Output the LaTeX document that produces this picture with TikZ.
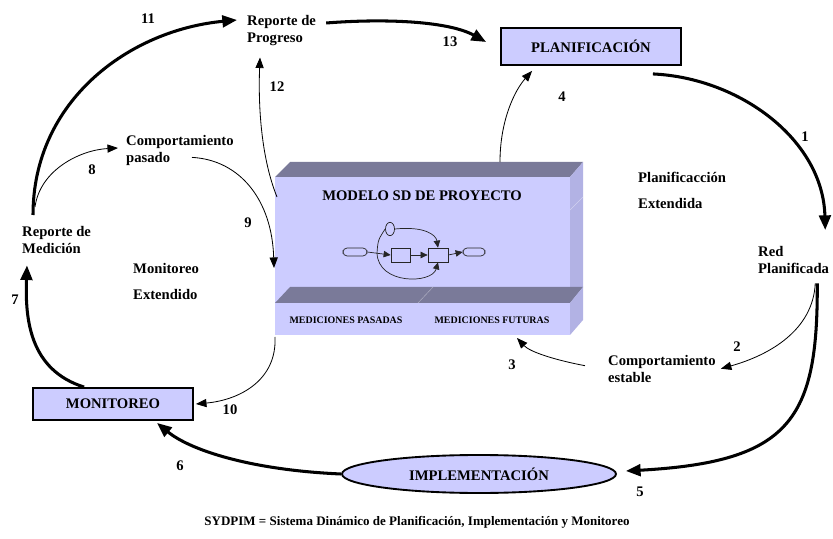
\documentclass[tikz,border=0pt]{standalone}
\usepackage{fontspec}
\setmainfont{Liberation Serif}
\usetikzlibrary{arrows.meta,calc,shapes.geometric}
\definecolor{lila}{RGB}{204,204,255}
\definecolor{lilatop}{RGB}{122,122,153}
\definecolor{lilaside}{RGB}{178,178,228}

\begin{document}
\begin{tikzpicture}[x=0.03cm,y=-0.03cm,
        lbl/.style={font=\fontsize{12.5}{14.2}\selectfont\bfseries, inner sep=0pt, align=left},
        ext/.style={font=\fontsize{12.5}{22}\selectfont\bfseries, inner sep=0pt, align=left},
        num/.style={font=\fontsize{12.5}{14}\selectfont\bfseries, inner sep=0pt},
        caja/.style={draw, line width=1.6pt, fill=lila, font=\fontsize{12.5}{14}\selectfont\bfseries, inner sep=0pt},
        gruesa/.style={line width=2.6pt, -{Triangle[length=12.5pt,width=10pt]}},
        fina/.style={line width=0.7pt, -{Triangle[length=9pt,width=7pt]}},
        mini/.style={line width=0.6pt, draw=black!85, -{Triangle[length=6pt,width=5.5pt]}},
    ]
        \useasboundingbox (0,0) rectangle (833,539);

        % bloque del modelo
        \coordinate (b1) at (275,177);
        \coordinate (b2) at (570,335);
        \fill[lila] (275,177) rectangle (570,303);
        \fill[lilatop] (275,177) -- (290,162) -- (583,162) -- (570,177) -- cycle;
        \fill[lilaside] (570,177) -- (583,162) -- (583,287) -- (570,303) -- cycle;
        \fill[lilatop] (275,303) -- (290,287) -- (583,287) -- (570,303) -- cycle;
        \fill[lila] (275,303) rectangle (570,335);
        \fill[lilaside] (570,303) -- (583,287) -- (583,320) -- (570,335) -- cycle;
        \draw[lilaside!60!white, line width=0.4pt] (570,210) -- (583,197);
        \draw[lilatop!60!white, line width=0.4pt] (418,303) -- (433,287);

        \node[font=\fontsize{12.5}{14}\selectfont\bfseries, inner sep=0pt] (modelo) at (422,196) {MODELO SD DE PROYECTO};
        \node[font=\fontsize{8.5}{10}\selectfont\bfseries, inner sep=0pt] (pasadas) at (346,320) {MEDICIONES PASADAS};
        \node[font=\fontsize{8.5}{10}\selectfont\bfseries, inner sep=0pt] (futuras) at (492,320) {MEDICIONES FUTURAS};

        % diagrama de flujo
        \node[draw=black!85, line width=0.6pt, fill=lila, rounded corners=3.5pt, minimum width=0.72cm, minimum height=0.24cm, inner sep=0pt] (nubeI) at (355,252) {};
        \node[draw=black!85, line width=0.6pt, fill=lila, rounded corners=3.5pt, minimum width=0.66cm, minimum height=0.24cm, inner sep=0pt] (nubeD) at (474,252) {};
        \node[draw=black!85, line width=0.6pt, fill=lila, minimum width=0.57cm, minimum height=0.42cm, inner sep=0pt] (nivel1) at (400.5,255) {};
        \node[draw=black!85, line width=0.6pt, fill=lila, minimum width=0.6cm, minimum height=0.42cm, inner sep=0pt] (nivel2) at (438,255) {};
        \node[draw=black!85, line width=0.6pt, fill=lila, ellipse, minimum width=0.27cm, minimum height=0.4cm, inner sep=0pt] (aux) at (390,229) {};
        \coordinate (union) at (377,253);
        \draw[mini] (nubeI.east) -- (nivel1.west);
        \draw[mini] (nivel1.east) -- (nivel2.west);
        \draw[mini] (nivel2.east) -- (nubeD.west);
        \draw[line width=0.6pt, draw=black!85] (union) .. controls (378,240) .. (aux.west);
        \draw[mini] (aux.east) .. controls (425,226) and (436,235) .. (nivel2.north);
        \draw[mini] (union) .. controls (378,285) and (432,284) .. (nivel2.south);

        % nodos principales
        \node[caja, minimum width=5.4cm, minimum height=1.11cm] (plan) at (591,46.5) {PLANIFICACIÓN};
        \node[caja, minimum width=4.8cm, minimum height=0.96cm] (monit) at (113,404) {MONITOREO};
        \node[caja, ellipse, minimum width=8.22cm, minimum height=1.14cm] (impl) at (479,474) {IMPLEMENTACIÓN};

        \node[lbl, anchor=north west] (prog) at (247,15) {Reporte de\\Progreso};
        \node[lbl, anchor=north west] (pasado) at (126,135) {Comportamiento\\pasado};
        \node[lbl, anchor=north west] (medic) at (22,226) {Reporte de\\Medición};
        \node[ext, anchor=north west] (monext) at (133,263) {Monitoreo\\Extendido};
        \node[ext, anchor=north west] (planext) at (638,172) {Planificacción\\Extendida};
        \node[lbl, anchor=north west] (red) at (758,246) {Red\\Planificada};
        \node[lbl, anchor=north west] (estable) at (608,355) {Comportamiento\\estable};

        % conectores
        \draw[gruesa] ($(plan.south east)+(-29,8)$) .. controls (740,78) and (823,140) .. ($(red.north east)+(-4,-16)$);
        \draw[fina] ($(red.south east)+(-14,10)$) .. controls (813,330) and (770,355) .. ($(estable.east)+(5,0)$);
        \draw[fina] ($(estable.west)+(-23,-3)$) .. controls (555,360) and (530,352) .. ($(b2)+(-53,3)$);
        \draw[fina] ($(b1)+(225,-15)$) .. controls (500,120) and (515,90) .. ($(plan.south west)+(32,5)$);
        \draw[gruesa] ($(red.south east)+(-12,10)$) .. controls (818,420) and (790,462) .. ($(impl.east)+(9,-3)$);
        \draw[gruesa] (impl.west) .. controls (250,470) and (190,450) .. ($(monit.south)+(44,2)$);
        \draw[gruesa] ($(monit.north west)+(52,0)$) .. controls (30,370) and (25,320) .. ($(medic.south west)+(5,12)$);
        \draw[fina] ($(medic.north west)+(13,-19)$) .. controls (40,170) and (80,150) .. ($(pasado.north west)+(-8,13)$);
        \draw[fina] ($(pasado.south west)+(66,-8)$) .. controls (240,160) and (272,200) .. ($(b1)+(-1,91)$);
        \draw[fina] ($(b1)+(0,160)$) .. controls (277,380) and (240,400) .. ($(monit.east)+(2,0)$);
        \draw[gruesa] ($(medic.north west)+(11,-11)$) .. controls (33,100) and (130,30) .. ($(prog.north west)+(-10,5)$);
        \draw[fina] ($(b1)+(2,20)$) .. controls (262,160) and (258,110) .. ($(prog.south west)+(13,12)$);
        \draw[gruesa] ($(prog.north east)+(10,8)$) .. controls (390,18) and (450,22) .. ($(plan.west)+(-14,-4.5)$);

        % numeros
        \node[num] (n1) at (805,137) {1};
        \node[num] (n2) at (737,347) {2};
        \node[num] (n3) at (512,365) {3};
        \node[num] (n4) at (562,97) {4};
        \node[num] (n5) at (640,492) {5};
        \node[num] (n6) at (180,466) {6};
        \node[num] (n7) at (15,300) {7};
        \node[num] (n8) at (92,170) {8};
        \node[num] (n9) at (248,223) {9};
        \node[num] (n10) at (230,410) {10};
        \node[num] (n11) at (148,19) {11};
        \node[num] (n12) at (277,87) {12};
        \node[num] (n13) at (450,42) {13};

        \node[font=\fontsize{11.1}{13}\selectfont\bfseries, inner sep=0pt] (pie) at (417,522) {SYDPIM = Sistema Dinámico de Planificación, Implementación y Monitoreo};
\end{tikzpicture}
\end{document}
